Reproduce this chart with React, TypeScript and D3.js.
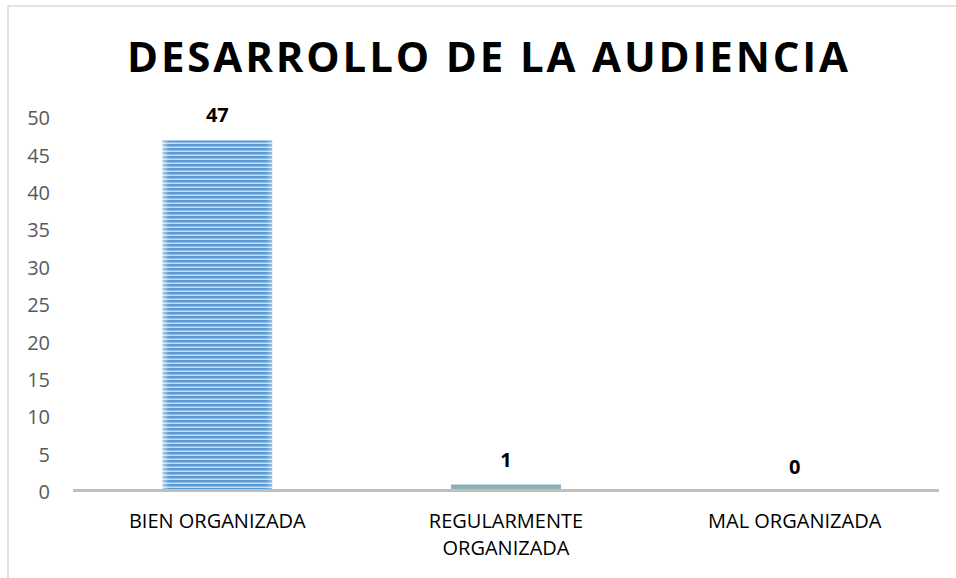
import React from "react";
import * as d3 from "d3";

// chart data
const categories: string[][] = [["BIEN ORGANIZADA"], ["REGULARMENTE", "ORGANIZADA"], ["MAL ORGANIZADA"]];
const values: number[] = [47, 1, 0];
const yTicks: number[] = [0, 5, 10, 15, 20, 25, 30, 35, 40, 45, 50];
const title = "DESARROLLO DE LA AUDIENCIA";

const W = 956;
const H = 578;
const font = '"Open Sans", sans-serif';

const App = () => {
    const ref = React.useRef<SVGSVGElement | null>(null);

    React.useEffect(() => {
        const svg = d3.select(ref.current);
        svg.selectAll("*").remove();

        const keys = categories.map((c) => c.join(" "));
        const x = d3.scaleBand<string>()
            .domain(keys)
            .range([73, 939])
            .paddingInner(0.62)
            .paddingOuter(0.31);
        const y = d3.scaleLinear().domain([0, 50]).range([492, 118]);

        // defs: striped fill for first bar, side shading
        const defs = svg.append("defs");
        const pat = defs.append("pattern")
            .attr("id", "stripes")
            .attr("patternUnits", "userSpaceOnUse")
            .attr("width", 8)
            .attr("height", 4);
        pat.append("rect").attr("width", 8).attr("height", 4).attr("fill", "#5B9BD5");
        pat.append("rect").attr("y", 2.5).attr("width", 8).attr("height", 1.5).attr("fill", "#C9DDF1");

        const grad = defs.append("linearGradient").attr("id", "edge").attr("x1", 0).attr("x2", 1);
        grad.append("stop").attr("offset", "0").attr("stop-color", "#fff").attr("stop-opacity", 0.55);
        grad.append("stop").attr("offset", "0.06").attr("stop-color", "#fff").attr("stop-opacity", 0);
        grad.append("stop").attr("offset", "0.94").attr("stop-color", "#fff").attr("stop-opacity", 0);
        grad.append("stop").attr("offset", "1").attr("stop-color", "#fff").attr("stop-opacity", 0.35);

        // white background + outer border (cut by the picture edge)
        svg.append("rect").attr("width", W).attr("height", H).attr("fill", "#fff");
        svg.append("rect")
            .attr("x", 8).attr("y", 6)
            .attr("width", W + 20).attr("height", H + 20)
            .attr("fill", "none")
            .attr("stroke", "#D9D9D9")
            .attr("stroke-width", 1.5);

        // title
        svg.append("text")
            .attr("x", 487.5)
            .attr("y", 72)
            .attr("text-anchor", "middle")
            .attr("font-family", font)
            .attr("font-weight", "bold")
            .attr("font-size", "42px")
            .attr("textLength", 721)
            .attr("lengthAdjust", "spacing")
            .attr("fill", "#000")
            .text(title);

        // y tick labels
        svg.append("g")
            .selectAll("text")
            .data(yTicks)
            .join("text")
            .attr("x", 50)
            .attr("y", (d) => y(d))
            .attr("dy", "0.36em")
            .attr("text-anchor", "end")
            .attr("font-family", font)
            .attr("font-size", "20px")
            .attr("fill", "#595959")
            .text((d) => d);

        // bars
        const bars = svg.append("g");
        values.forEach((v, i) => {
            if (v <= 0) return;
            const bx = x(keys[i])!;
            const bw = x.bandwidth();
            const top = y(v);
            const h = y(0) - top;
            if (i === 0) {
                bars.append("rect")
                    .attr("x", bx).attr("y", top)
                    .attr("width", bw).attr("height", h)
                    .attr("fill", "url(#stripes)");
                bars.append("rect")
                    .attr("x", bx).attr("y", top)
                    .attr("width", bw).attr("height", h)
                    .attr("fill", "url(#edge)");
            } else {
                bars.append("rect")
                    .attr("x", bx + 0.5).attr("y", top + 0.5)
                    .attr("width", bw - 1).attr("height", h - 1)
                    .attr("fill", "#8EB0AE")
                    .attr("stroke", "#7FA9CF")
                    .attr("stroke-width", 1);
            }
        });

        // base axis line
        svg.append("line")
            .attr("x1", 73).attr("x2", 939)
            .attr("y1", y(0) - 1.5).attr("y2", y(0) - 1.5)
            .attr("stroke", "#BFBFBF")
            .attr("stroke-width", 3);

        // value labels
        svg.append("g")
            .selectAll("text")
            .data(values)
            .join("text")
            .attr("x", (_d, i) => x(keys[i])! + x.bandwidth() / 2)
            .attr("y", (d) => y(d) - 18)
            .attr("text-anchor", "middle")
            .attr("font-family", font)
            .attr("font-weight", "bold")
            .attr("font-size", "20px")
            .attr("fill", "#000")
            .text((d) => d);

        // category labels
        const cat = svg.append("g");
        categories.forEach((lines, i) => {
            const t = cat.append("text")
                .attr("x", x(keys[i])! + x.bandwidth() / 2)
                .attr("y", 528)
                .attr("text-anchor", "middle")
                .attr("font-family", font)
                .attr("font-size", "20px")
                .attr("fill", "#000");
            lines.forEach((l, j) => {
                t.append("tspan")
                    .attr("x", x(keys[i])! + x.bandwidth() / 2)
                    .attr("dy", j === 0 ? 0 : 27)
                    .text(l);
            });
        });
    }, []);

    return (
        <svg
            ref={ref}
            width={W}
            height={H}
            style={{ position: "absolute", left: 0, top: 0, display: "block" }}
        ></svg>
    );
};

export default App;
